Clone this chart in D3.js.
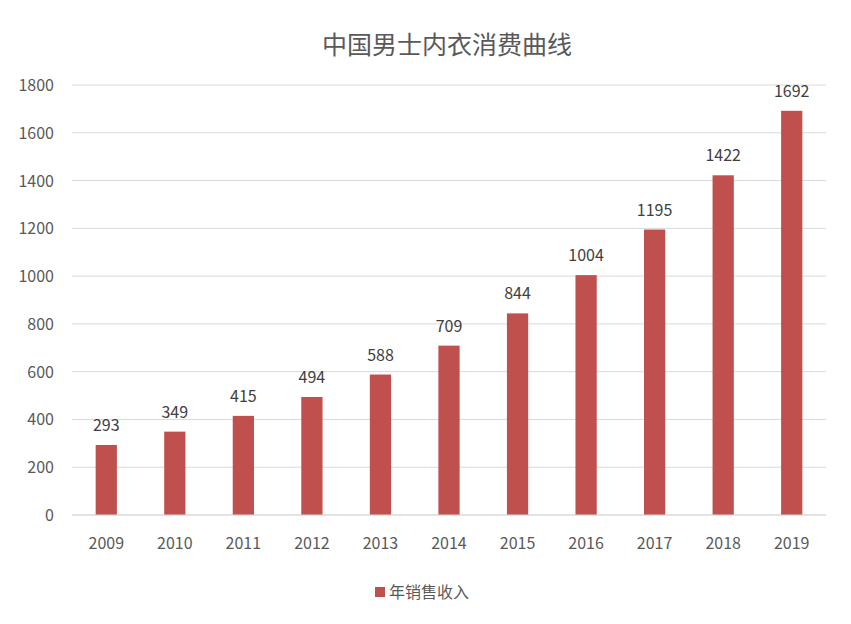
<!DOCTYPE html>
<html><head><meta charset="utf-8">
<script src="https://cdn.jsdelivr.net/npm/d3@7"></script>
<style>body{margin:0;background:#fff}text{font-family:"Noto Sans CJK SC","Open Sans",sans-serif}</style>
</head><body><svg id="c" width="851" height="624"></svg>
<script>
const categories = ["2009","2010","2011","2012","2013","2014","2015","2016","2017","2018","2019"];
const values = [293,349,415,494,588,709,844,1004,1195,1422,1692];
const yTicks = [0,200,400,600,800,1000,1200,1400,1600,1800];
const seriesName = "年销售收入";
const title = "中国男士内衣消费曲线";

const svg = d3.select("#c");
const L=72,R=826,T=85,B=515;
const x = d3.scaleBand().domain(categories).range([L,R]).paddingInner(0.69).paddingOuter(0.345);
const y = d3.scaleLinear().domain([0,1800]).range([B,T]);
const grey="#595959";

svg.append("g").selectAll("line").data(yTicks).join("line")
  .attr("x1",L).attr("x2",R).attr("y1",d=>y(d)).attr("y2",d=>y(d))
  .attr("stroke","#d9d9d9").attr("stroke-width",1);
svg.append("g").selectAll("text").data(yTicks).join("text")
  .attr("x",54).attr("y",d=>y(d)+6).attr("text-anchor","end")
  .attr("font-size",16).attr("fill",grey).text(d=>d);

svg.append("g").selectAll("rect").data(values).join("rect")
  .attr("x",(d,i)=>x(categories[i])).attr("width",x.bandwidth())
  .attr("y",d=>y(d)).attr("height",d=>B-y(d)).attr("fill","#c0504d");
svg.append("g").selectAll("text").data(values).join("text")
  .attr("x",(d,i)=>x(categories[i])+x.bandwidth()/2).attr("y",d=>y(d)-14)
  .attr("text-anchor","middle").attr("font-size",16).attr("fill","#404040").text(d=>d);

svg.append("line").attr("x1",L).attr("x2",R).attr("y1",B).attr("y2",B).attr("stroke","#d9d9d9");
svg.append("g").selectAll("text").data(categories).join("text")
  .attr("x",d=>x(d)+x.bandwidth()/2).attr("y",549).attr("text-anchor","middle")
  .attr("font-size",16).attr("fill",grey).text(d=>d);

svg.append("text").attr("x",447).attr("y",54).attr("text-anchor","middle")
  .attr("font-size",25).attr("fill",grey).text(title);

svg.append("rect").attr("x",375).attr("y",587).attr("width",10).attr("height",10).attr("fill","#c0504d");
svg.append("text").attr("x",389).attr("y",598).attr("font-size",16).attr("fill",grey).text(seriesName);
</script></body></html>
